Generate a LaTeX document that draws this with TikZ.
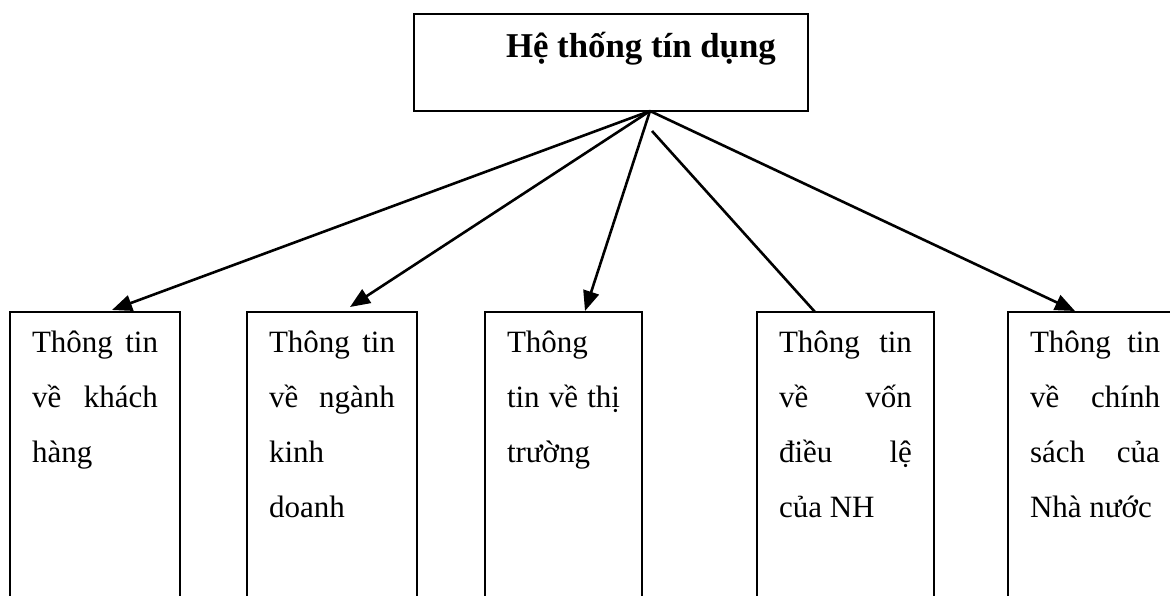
\documentclass[tikz,border=0pt]{standalone}
\usepackage{fontspec}
\setmainfont{Liberation Serif}
\usetikzlibrary{arrows.meta,calc}
\newcommand\jline[1]{\makebox[\linewidth][s]{#1}}
\newcommand\boxtext[2]{\parbox[t][288pt][t]{#1}{\fontsize{31pt}{55pt}\selectfont\rule{0pt}{40pt}#2}}
\begin{document}
\begin{tikzpicture}[x=1pt,y=-1pt,
  infobox/.style={draw, line width=2pt, inner sep=0pt, inner xsep=22pt, outer sep=0pt, anchor=north west},
  topbox/.style={draw, line width=2pt, inner sep=0pt, outer sep=0pt, anchor=north west},
  link/.style={line width=2.6pt},
  arrowlink/.style={link, -{Triangle[length=20pt,width=16pt]}}]
\useasboundingbox (0,0) rectangle (1170,596);
\node[topbox] (top) at (414,14) {\parbox[t][97pt][t]{394pt}{\fontsize{34.8pt}{40pt}\selectfont\bfseries\hspace*{92pt}\rule{0pt}{44pt}Hệ thống tín dụng}};
\node[infobox] (b1) at (10,312) {\boxtext{126pt}{\jline{Thông tin}\\\jline{về khách}\\hàng}};
\node[infobox] (b2) at (247,312) {\boxtext{126pt}{\jline{Thông tin}\\\jline{về ngành}\\kinh\\doanh}};
\node[infobox] (b3) at (485,312) {\boxtext{113pt}{Thông\\\jline{tin về thị}\\trường}};
\node[infobox] (b4) at (757,312) {\boxtext{133pt}{\jline{Thông tin}\\\jline{về vốn}\\\jline{điều lệ}\\của NH}};
\node[infobox] (b5) at (1008,312) {\boxtext{130pt}{\jline{Thông tin}\\\jline{về chính}\\\jline{sách của}\\Nhà nước}};
\coordinate (apex) at ([xshift=236pt]top.south west);
\coordinate (apex2) at ([xshift=238pt,yshift=-20pt]top.south west);
\coordinate (t1) at ([xshift=102pt,yshift=2pt]b1.north west);
\coordinate (t2) at ([xshift=103pt,yshift=5pt]b2.north west);
\coordinate (t3) at ([xshift=100pt,yshift=1pt]b3.north west);
\coordinate (t4) at ([xshift=58pt]b4.north west);
\coordinate (t5) at ([xshift=67pt,yshift=1pt]b5.north west);
\draw[arrowlink] (apex) -- (t1);
\draw[arrowlink] (apex) -- (t2);
\draw[arrowlink] (apex) -- (t3);
\draw[link] (apex2) -- (t4);
\draw[arrowlink] (apex) -- (t5);
\end{tikzpicture}
\end{document}
